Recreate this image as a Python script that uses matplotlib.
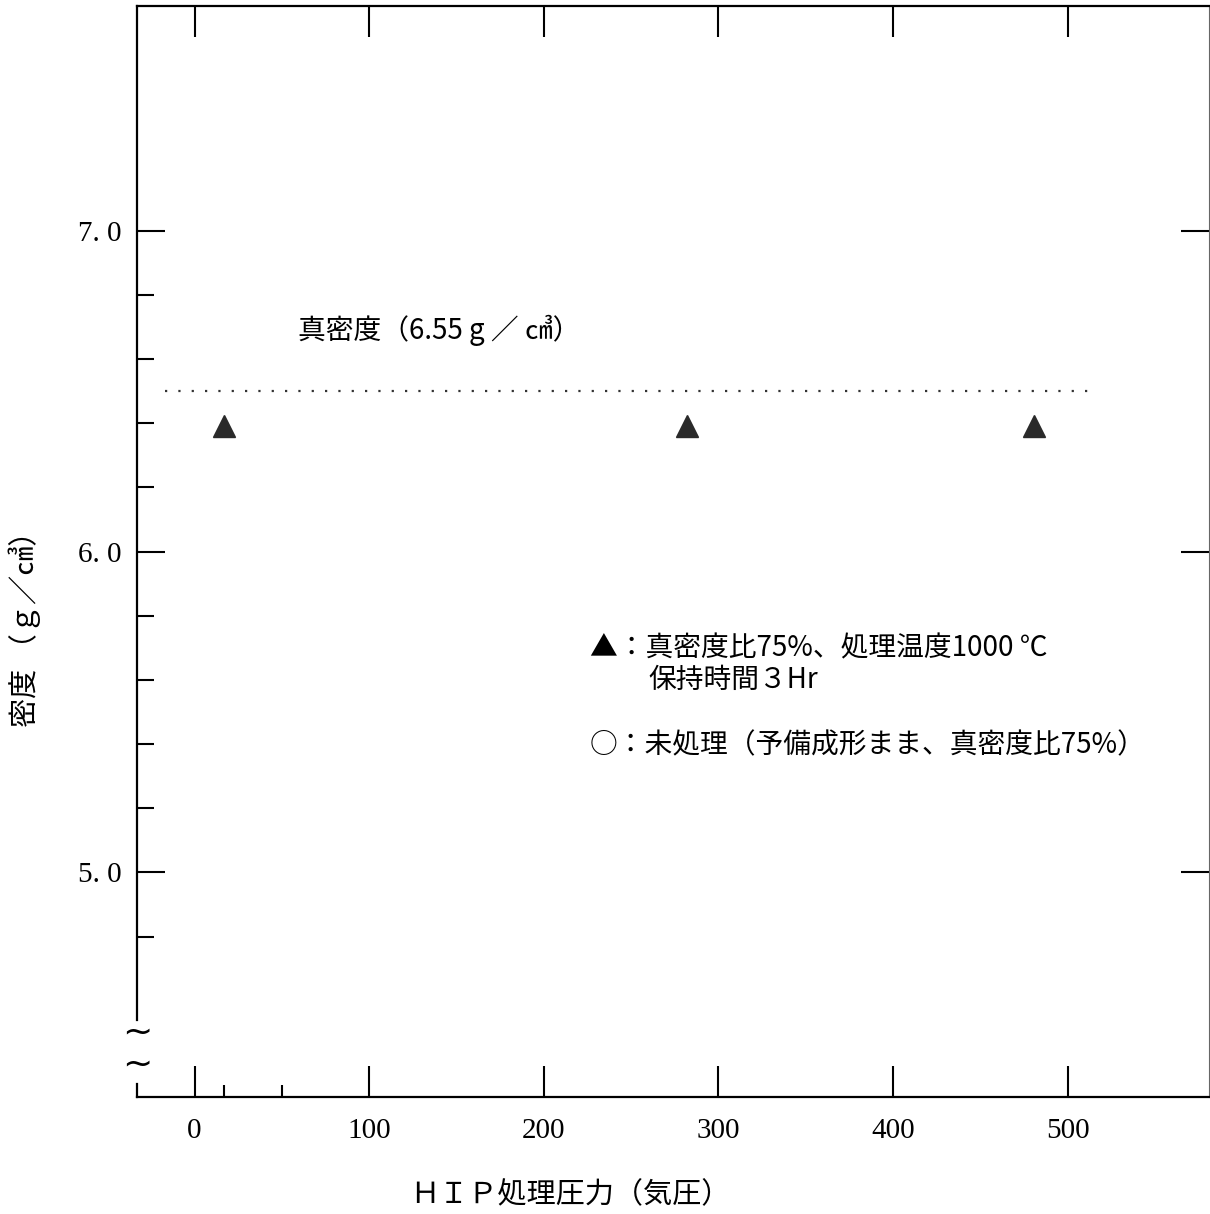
import matplotlib
matplotlib.use('Agg')
import matplotlib.pyplot as plt

plt.rcParams['font.family'] = ['Noto Sans CJK JP', 'DejaVu Sans']

# HIP処理圧力 (気圧) と密度 (g/cm3)
pressure = [17, 282, 481]
density = [6.39, 6.39, 6.39]

true_density = 6.5
true_line_x = [-17, 517]

x_ticks = [0, 100, 200, 300, 400, 500]
x_minor = [17, 50]
y_ticks = [5.0, 6.0, 7.0]
y_tick_labels = ['5. 0', '6. 0', '7. 0']
y_minor = [4.8, 5.2, 5.4, 5.6, 5.8, 6.2, 6.4, 6.6, 6.8]


def main():
    fig = plt.figure(figsize=(12.10, 12.14), dpi=100)
    ax = fig.add_axes([137 / 1210, 117 / 1214, 1072 / 1210, 1091 / 1214])

    ax.hlines(true_density, true_line_x[0], true_line_x[1], colors='#333333',
              linestyles=(0, (1, 5)), linewidth=1.6)
    ax.plot(pressure, density, linestyle='none', marker='^', markersize=16,
            color='#2a2a2a')

    ax.set_xlim(-33, 581)
    ax.set_ylim(4.3, 7.7)

    ax.set_xticks(x_ticks)
    ax.set_xticklabels([str(v) for v in x_ticks], family='Liberation Serif', fontsize=21)
    ax.set_xticks(x_minor, minor=True)
    ax.set_yticks(y_ticks)
    ax.set_yticklabels(y_tick_labels, family='Liberation Serif', fontsize=21)
    ax.set_yticks(y_minor, minor=True)

    ax.tick_params(axis='x', which='major', direction='in', length=22, width=1.5,
                   top=True, pad=15)
    ax.tick_params(axis='x', which='minor', direction='in', length=8.5, width=1.5,
                   top=False)
    ax.tick_params(axis='y', which='major', direction='in', length=20, width=1.5,
                   right=True, pad=11)
    ax.tick_params(axis='y', which='minor', direction='in', length=12, width=1.5,
                   right=False)

    for side in ['left', 'bottom', 'top']:
        ax.spines[side].set_linewidth(1.6)
    ax.spines['right'].set_linewidth(0.8)
    ax.spines['right'].set_color('#666666')
    ax.spines['left'].set_bounds(4.54, 7.7)

    # 軸の省略記号
    ax.plot([0, 0], [0, 0.012], transform=ax.transAxes, color='black',
            linewidth=1.6, clip_on=False)
    ax.text(0, 4.50, '~', transform=ax.get_yaxis_transform(), fontsize=26,
            ha='center', va='center', family='DejaVu Sans')
    ax.text(0, 4.40, '~', transform=ax.get_yaxis_transform(), fontsize=26,
            ha='center', va='center', family='DejaVu Sans')

    ax.text(0.150, 0.703, '真密度（6.55 g ／ ㎤）', transform=ax.transAxes,
            fontsize=20, ha='left', va='center')
    ax.text(0.4226, 0.4115, '▲：真密度比75%、処理温度1000 ℃', transform=ax.transAxes,
            fontsize=20, ha='left', va='center')
    ax.text(0.4767, 0.3822, '保持時間３Hr', transform=ax.transAxes,
            fontsize=20, ha='left', va='center')
    ax.text(0.4226, 0.3226, '○：未処理（予備成形まま、真密度比75%）', transform=ax.transAxes,
            fontsize=20, ha='left', va='center')

    fig.text(570 / 1210, 19 / 1214, 'ＨＩＰ処理圧力（気圧）', fontsize=21,
             ha='center', va='center')
    fig.text(25 / 1210, 1 - 622 / 1214, '密度 （ｇ／㎤）', fontsize=21,
             ha='center', va='center', rotation=90)

    fig.savefig('out.png', dpi=100)


main()
